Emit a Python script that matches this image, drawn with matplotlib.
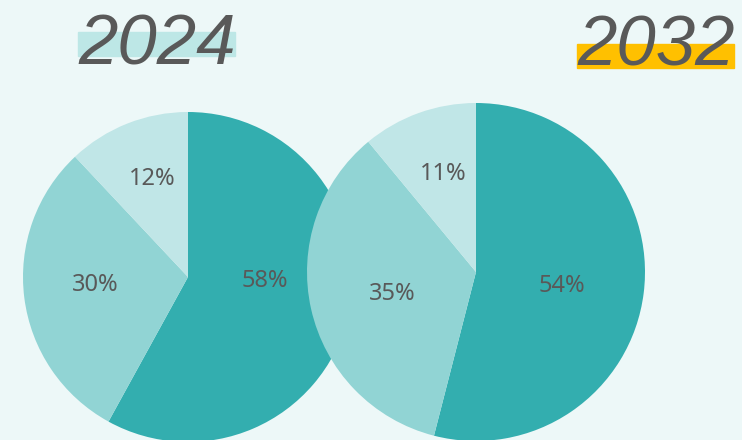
import matplotlib
matplotlib.use("Agg")
import numpy as np
import matplotlib.pyplot as plt
from matplotlib.patches import Rectangle

# data
years = ["2024", "2032"]
shares_2024 = [58, 30, 12]
shares_2032 = [54, 35, 11]

BG = "#EDF8F8"
COLORS = ["#33AEAF", "#91D4D4", "#C0E6E7"]
TEXT = "#595959"
H = 440

fig = plt.figure(figsize=(7.42, 4.40), dpi=100, facecolor=BG)
ax = fig.add_axes([0, 0, 1, 1])
ax.set_facecolor(BG)


def draw_pie(values, cx, cy, r, label_r, label_tweak):
    wedges, _ = ax.pie(values, colors=COLORS, startangle=90, counterclock=False,
                       center=(cx, H - cy), radius=r, frame=True,
                       wedgeprops=dict(linewidth=0))
    # labels sit inside each wedge, a bit off the mid angle like the original
    for w, v, lr, dt in zip(wedges, values, label_r, label_tweak):
        mid = np.deg2rad((w.theta1 + w.theta2) / 2 + dt)
        x = cx + lr * r * np.cos(mid)
        y = H - cy + lr * r * np.sin(mid)
        ax.text(x, y, f"{v}%", ha="center", va="center", fontsize=17,
                color=TEXT, family="Noto Sans")


draw_pie(shares_2024, 188, 277, 165, [0.467, 0.566, 0.633], [11.4, -2.3, -1.4])
draw_pie(shares_2032, 476, 272, 169, [0.515, 0.514, 0.61], [-2.0, 2.0, -1.2])
ax.set_xlim(0, 742)
ax.set_ylim(0, H)
ax.set_aspect("equal")
ax.axis("off")

# year headings with highlight bars
ax.add_patch(Rectangle((78, H - 56), 157, 24, color="#BDE7E6", zorder=5))
ax.add_patch(Rectangle((577, H - 68), 157, 24, color="#FFC000", zorder=5))
ax.text(78, H - 64, years[0], fontsize=51, style="italic", color=TEXT,
        family="Liberation Sans", ha="left", va="baseline", zorder=6)
ax.text(577, H - 65, years[1], fontsize=51, style="italic", color=TEXT,
        family="Liberation Sans", ha="left", va="baseline", zorder=6)

fig.savefig("out.png", dpi=100, facecolor=BG)
